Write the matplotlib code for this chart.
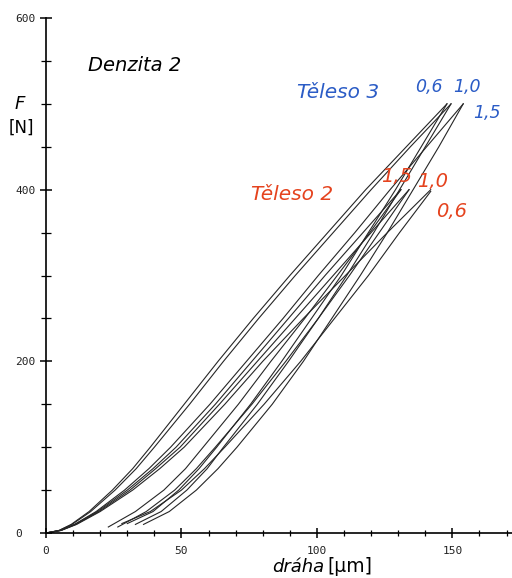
import numpy as np
import matplotlib
matplotlib.use("Agg")
import matplotlib.pyplot as plt
from matplotlib.ticker import MultipleLocator

# force levels [N] of the loading branches
F_load_t3 = [0, 3, 10, 25, 50, 75, 100, 150, 200, 250, 300, 350, 400, 450, 500]
F_load_t2 = [0, 3, 10, 25, 50, 75, 100, 150, 200, 250, 300, 350, 400]

# loading branches, path [um] read at the force levels above
t3_load_06 = [0, 4.8, 9.3, 15.9, 24.5, 32, 38.5, 51, 63.5, 76.5, 90, 104, 118, 133, 148]
t3_load_10 = [0, 4.9, 9.6, 16.5, 25.5, 33.3, 40, 53, 65.5, 78.5, 92, 106, 120, 134.5, 149.5]
t3_load_15 = [0, 5.3, 10.5, 18.5, 29, 38, 46, 60.5, 74, 87.5, 100.5, 114, 127, 140.5, 154]
t2_load_15 = [0, 5.4, 10.7, 19, 30, 39.5, 48, 62.5, 76, 89.5, 103, 117, 131]
t2_load_10 = [0, 5.5, 11, 19.5, 31, 40.5, 49.5, 64, 78, 92, 106, 120, 134]
t2_load_06 = [0, 5.6, 11.3, 20, 32, 42, 51, 66, 80, 95, 110.5, 126, 142]

# unloading branches (first point = end of unloading)
F_unl_t3_06 = [11, 25, 50, 75, 100, 150, 200, 250, 300, 350, 400, 450, 500]
t3_unl_06 = [30, 39.5, 49, 56.5, 63, 75.5, 87, 98, 109, 119, 129, 138.5, 148]
F_unl_t3_10 = [10, 25, 50, 75, 100, 150, 200, 250, 300, 350, 400, 450, 500]
t3_unl_10 = [33, 42.5, 52, 59.5, 65.5, 78, 89.5, 100.5, 111, 121, 130.5, 140, 149.5]
F_unl_t3_15 = [10, 25, 50, 75, 100, 150, 200, 250, 300, 350, 400, 450, 500]
t3_unl_15 = [36, 45.5, 55.5, 63.5, 70.5, 83.5, 95, 105.5, 116, 126, 135.5, 145, 154]

F_unl_t2_15 = [7, 25, 50, 75, 100, 150, 200, 250, 300, 350, 400]
t2_unl_15 = [23, 33, 43.5, 51.5, 58, 71, 83, 95.5, 107.5, 119.5, 131]
F_unl_t2_10 = [7, 25, 50, 75, 100, 150, 200, 250, 300, 350, 400]
t2_unl_10 = [26.5, 37, 47.5, 55.5, 62.5, 76, 88.5, 100.5, 112, 123, 134]
F_unl_t2_06 = [11, 25, 50, 75, 100, 150, 200, 250, 300, 350, 398]
t2_unl_06 = [28, 38.5, 50, 58.5, 66, 80.5, 94, 106.5, 119, 130.5, 142]

blue = "#2b5cc6"
red = "#e5431e"
line_c = "#262626"

fig = plt.figure(figsize=(5.12, 5.78), dpi=100)
ax = fig.add_axes([46 / 512, 45 / 578, 466 / 512, 515 / 578])

curves = [(t3_load_06, F_load_t3), (t3_load_10, F_load_t3), (t3_load_15, F_load_t3),
          (t2_load_15, F_load_t2), (t2_load_10, F_load_t2), (t2_load_06, F_load_t2),
          (t3_unl_06, F_unl_t3_06), (t3_unl_10, F_unl_t3_10), (t3_unl_15, F_unl_t3_15),
          (t2_unl_15, F_unl_t2_15), (t2_unl_10, F_unl_t2_10), (t2_unl_06, F_unl_t2_06)]
for xs, fs in curves:
    ax.plot(xs, fs, color=line_c, lw=0.8, solid_joinstyle="round")

ax.set_xlim(0, 172)
ax.set_ylim(0, 600)
for s in ["top", "right"]:
    ax.spines[s].set_visible(False)
ax.spines["left"].set_linewidth(1.2)
ax.spines["bottom"].set_linewidth(1.2)

ax.xaxis.set_major_locator(MultipleLocator(50))
ax.xaxis.set_minor_locator(MultipleLocator(10))
ax.yaxis.set_major_locator(MultipleLocator(200))
ax.yaxis.set_minor_locator(MultipleLocator(50))
ax.tick_params(axis="x", which="major", direction="inout", length=7, width=1.1, pad=6)
ax.tick_params(axis="x", which="minor", direction="inout", length=4, width=0.9)
ax.tick_params(axis="y", which="major", direction="inout", length=9, width=1.1, pad=17.5)
ax.tick_params(axis="y", which="minor", direction="inout", length=6.5, width=0.9)
for lab in ax.get_xticklabels() + ax.get_yticklabels():
    lab.set_fontfamily("DejaVu Sans Mono")
    lab.set_fontsize(8)
    lab.set_color("#222222")
for lab in ax.get_yticklabels():
    lab.set_horizontalalignment("left")

txt = dict(family="DejaVu Sans", style="italic", va="center")
ax.text(15.6, 545, "Denzita 2", color="black", fontsize=14, ha="left", **txt)
ax.text(92.6, 513, "Těleso 3", color=blue, fontsize=14.5, ha="left", **txt)
ax.text(141.5, 520, "0,6", color=blue, fontsize=12.5, ha="center", **txt)
ax.text(155.2, 520, "1,0", color=blue, fontsize=12.5, ha="center", **txt)
ax.text(162.6, 489, "1,5", color=blue, fontsize=12.5, ha="center", **txt)
ax.text(75.6, 394, "Těleso 2", color=red, fontsize=14.5, ha="left", **txt)
ax.text(129.3, 415, "1,5", color=red, fontsize=14, ha="center", **txt)
ax.text(142.6, 410, "1,0", color=red, fontsize=14, ha="center", **txt)
ax.text(149.6, 375, "0,6", color=red, fontsize=14, ha="center", **txt)

fig.text(20 / 512, 1 - 104 / 578, "F", fontsize=13, style="italic", ha="center", va="center")
fig.text(21 / 512, 1 - 128 / 578, "[N]", fontsize=12, ha="center", va="center")
fig.text(324 / 512, 1 - 567 / 578, "dráha", fontsize=13, style="italic", ha="right", va="center")
fig.text(327 / 512, 1 - 567 / 578, "[μm]", fontsize=13.5, ha="left", va="center")

fig.savefig("out.png", dpi=100)
